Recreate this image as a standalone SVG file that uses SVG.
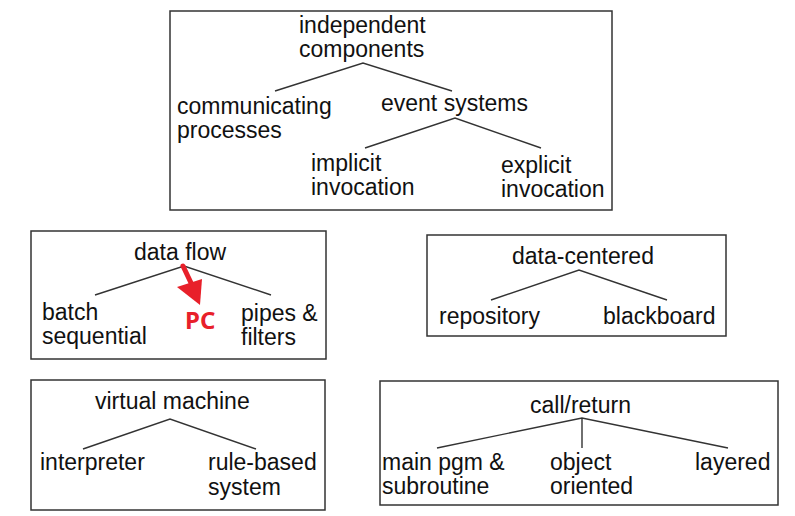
<svg xmlns="http://www.w3.org/2000/svg" width="795" height="516" viewBox="0 0 795 516">
<style>
.box{fill:#fff;stroke:#333;stroke-width:1.5}
.t{font-family:"Liberation Sans",Arial,Helvetica,sans-serif;font-size:23px;fill:#111}
.e{fill:none;stroke:#333;stroke-width:1.4}
.pc{font-family:"Noto Sans","Liberation Sans",Arial,sans-serif;font-size:24px;font-weight:bold;fill:#e8202a}
</style>
<rect width="795" height="516" fill="#fff"/>
<g id="independent-components">
<rect class="box" x="170" y="11" width="442" height="199"/>
<text class="t" x="299" y="33">independent</text>
<text class="t" x="299" y="57">components</text>
<text class="t" x="177" y="114">communicating</text>
<text class="t" x="177" y="138">processes</text>
<text class="t" x="381" y="111">event systems</text>
<text class="t" x="311" y="171">implicit</text>
<text class="t" x="311" y="195">invocation</text>
<text class="t" x="501" y="173">explicit</text>
<text class="t" x="501" y="197">invocation</text>
</g>
<g id="data-flow">
<rect class="box" x="31" y="231" width="295" height="128"/>
<text class="t" x="134" y="260">data flow</text>
<text class="t" x="42" y="320">batch</text>
<text class="t" x="42" y="344">sequential</text>
<text class="t" x="241" y="321">pipes &amp;</text>
<text class="t" x="241" y="345">filters</text>
<text class="pc" x="185" y="329">PC</text>
</g>
<g id="data-centered">
<rect class="box" x="427" y="235" width="299" height="101"/>
<text class="t" x="512" y="264">data-centered</text>
<text class="t" x="439" y="324">repository</text>
<text class="t" x="603" y="324">blackboard</text>
</g>
<g id="virtual-machine">
<rect class="box" x="31" y="380" width="294" height="130"/>
<text class="t" x="95" y="409">virtual machine</text>
<text class="t" x="40" y="470">interpreter</text>
<text class="t" x="208" y="470">rule-based</text>
<text class="t" x="208" y="495">system</text>
</g>
<g id="call-return">
<rect class="box" x="380" y="381" width="398" height="124"/>
<text class="t" x="530" y="413">call/return</text>
<text class="t" x="382" y="470">main pgm &amp;</text>
<text class="t" x="382" y="494">subroutine</text>
<text class="t" x="550" y="470">object</text>
<text class="t" x="550" y="494">oriented</text>
<text class="t" x="695" y="470">layered</text>
</g>
<g id="connectors">
<polyline class="e" points="275,91 363,63 452,91"/>
<polyline class="e" points="365,148 455,118 541,148"/>
<polyline class="e" points="95,295 184,266 271,295"/>
<polyline class="e" points="491,300 579,270 667,300"/>
<polyline class="e" points="83,449 170,419 256,449"/>
<polyline class="e" points="437,448 582,418 728,448"/>
<line class="e" x1="582" y1="418" x2="582" y2="448"/>
<g id="pc-arrow">
<line x1="183" y1="266" x2="192" y2="285" stroke="#e8202a" stroke-width="5" stroke-linecap="round"/>
<polygon points="177,287 202,279 200,305" fill="#e8202a"/>
</g>
</g>
</svg>
